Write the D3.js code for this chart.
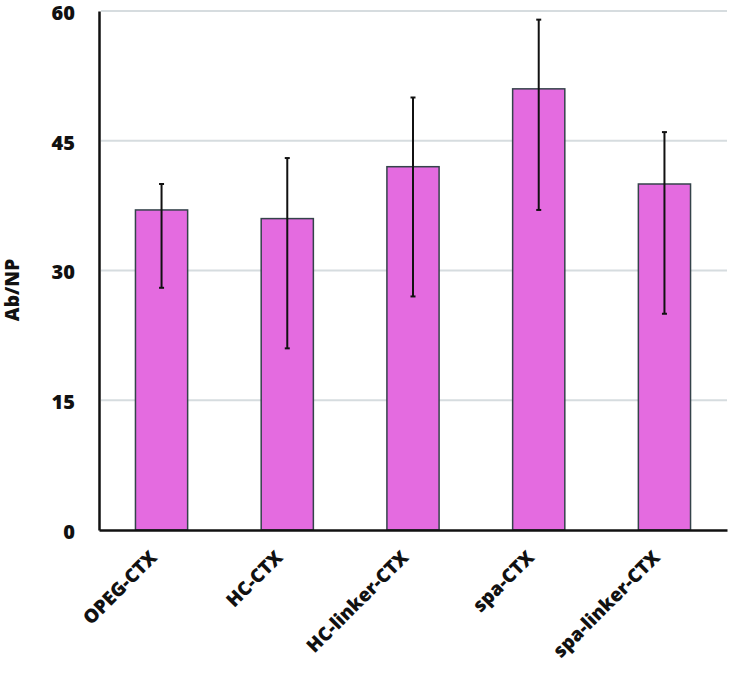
<!DOCTYPE html>
<html>
<head>
<meta charset="utf-8">
<script src="https://cdn.jsdelivr.net/npm/d3@7"></script>
<style>
  body { margin: 0; background: #fff; }
  text { font-family: 'Open Sans', 'Liberation Sans', sans-serif; font-weight: bold; fill: #111; }
</style>
</head>
<body>
<svg id="chart" width="739" height="673"></svg>
<script>
// chart data
const categories = ['OPEG-CTX', 'HC-CTX', 'HC-linker-CTX', 'spa-CTX', 'spa-linker-CTX'];
const values = [37, 36, 42, 51, 40];
const errLow = [28, 21, 27, 37, 25];
const errHigh = [40, 43, 50, 59, 46];
const yTicks = [0, 15, 30, 45, 60];

const margin = { top: 11, right: 12, bottom: 143, left: 99 };

const svg = d3.select('#chart'),
  width = +svg.attr('width') - margin.left - margin.right,
  height = +svg.attr('height') - margin.top - margin.bottom;

const g = svg.append('g').attr('transform', `translate(${margin.left},${margin.top})`);

const x = d3.scaleBand().domain(categories).range([0, width]).paddingInner(0.585).paddingOuter(0.29);
const y = d3.scaleLinear().domain([0, 60]).range([height, 0]);

// gridlines
g.append('g')
  .selectAll('line')
  .data(yTicks.filter((d) => d > 0))
  .join('line')
  .attr('x1', 2)
  .attr('x2', width)
  .attr('y1', (d) => y(d))
  .attr('y2', (d) => y(d))
  .attr('stroke', '#d6dcdf')
  .attr('stroke-width', 2);

// bars
g.append('g')
  .selectAll('rect')
  .data(values)
  .join('rect')
  .attr('x', (d, i) => x(categories[i]))
  .attr('y', (d) => y(d))
  .attr('width', x.bandwidth())
  .attr('height', (d) => height - y(d))
  .attr('fill', '#e46be0')
  .attr('stroke', '#34434a')
  .attr('stroke-width', 1.5);

// error bars
const eb = g.append('g');
categories.forEach(function (c, i) {
  const cx = x(c) + x.bandwidth() / 2;
  eb.append('line')
    .attr('x1', cx).attr('x2', cx)
    .attr('y1', y(errLow[i])).attr('y2', y(errHigh[i]))
    .attr('stroke', '#111').attr('stroke-width', 2);
  [errLow[i], errHigh[i]].forEach(function (v) {
    eb.append('line')
      .attr('x1', cx - 2.5).attr('x2', cx + 2.5)
      .attr('y1', y(v)).attr('y2', y(v))
      .attr('stroke', '#111').attr('stroke-width', 2);
  });
});

// y axis
const yAxis = g.append('g')
  .call(d3.axisLeft(y).tickValues(yTicks).tickSize(0).tickPadding(24));
yAxis.select('.domain').attr('stroke', '#111').attr('stroke-width', 2.5);
yAxis.selectAll('text')
  .style('font-size', '20px')
  .style('font-weight', 800)
  .attr('dy', '0.42em');

// x axis
const xAxis = g.append('g')
  .attr('transform', `translate(0,${height})`)
  .call(d3.axisBottom(x).tickSize(0).tickPadding(0));
xAxis.select('.domain').attr('stroke', '#111').attr('stroke-width', 2.5);
xAxis.selectAll('text')
  .style('font-size', '19px')
  .style('font-weight', 800)
  .attr('text-anchor', 'end')
  .attr('dy', '0.35em')
  .attr('transform', 'translate(-8,24) rotate(-45)');

// y label
svg.append('text')
  .attr('transform', 'translate(19,290) rotate(-90)')
  .attr('text-anchor', 'middle')
  .style('font-size', '19px')
  .style('font-weight', 800)
  .text('Ab/NP');
</script>
</body>
</html>
